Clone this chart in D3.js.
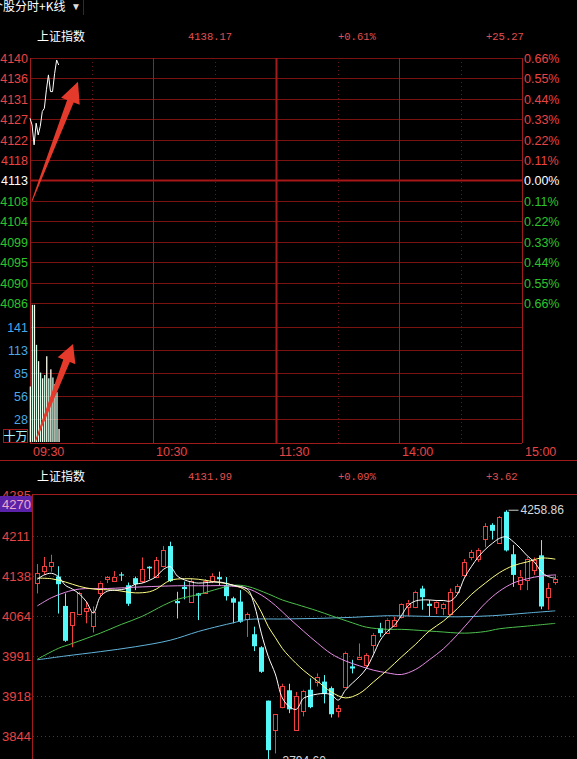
<!DOCTYPE html>
<html lang="zh">
<head>
<meta charset="utf-8">
<title>上证指数 分时+K线</title>
<script src="https://cdn.jsdelivr.net/npm/d3@7"></script>
<style>
  html, body { margin: 0; padding: 0; background: #000; }
  svg { display: block; }
</style>
</head>
<body>
<script>
// ---------- 分时 (intraday) ----------
const prevClose = 4112.9
const pctSteps = [0.66, 0.55, 0.44, 0.33, 0.22, 0.11, 0, -0.11, -0.22, -0.33, -0.44, -0.55, -0.66]
const priceTicks = [4140, 4136, 4131, 4127, 4122, 4118, 4113, 4108, 4104, 4099, 4095, 4090, 4086]
const pctTicks = ["0.66%", "0.55%", "0.44%", "0.33%", "0.22%", "0.11%", "0.00%",
                  "0.11%", "0.22%", "0.33%", "0.44%", "0.55%", "0.66%"]
const volTicks = [141, 113, 85, 56, 28]
const timeLabels = ["09:30", "10:30", "11:30", "14:00", "15:00"]
const timeMinutes = [0, 60, 120, 180, 240]
const minutePrice = [4126.7, 4125.2, 4120.8, 4125.6, 4123.0, 4124.9, 4128.2, 4128.9,
                     4133.0, 4136.3, 4132.6, 4132.6, 4136.6, 4139.6, 4138.5]
const minuteVol = [68, 168, 168, 119, 99, 85, 78, 82, 105, 78, 89, 79, 71, 61, 16]
const topHeader = ["上证指数", "4138.17", "+0.61%", "+25.27"]

// ---------- 日K ----------
const kOpen  = [4125,4146,4156,4137,4083,4048,4068,4075,4046,4107,4132,4129,4141,4121,4134,4128,4155,4136,4156,4193,
                4092,4118,4091,4106,4106,4129,4136,4121,4097,4091,4058,4031,4007,3909,3854,3897,3928,3856,3891,3929,
                3944,3944,3932,3889,3935,3972,3987,3974,4011,4042,4034,4046,4063,4082,4082,4115,4087,4082,4080,4068,
                4109,4140,4172,4169,4207,4232,4199,4256,4178,4125,4131,4149,4176,4100,4127]
const kClose = [4143,4156,4164,4123,4019,4072,4106,4080,4071,4126,4136,4137,4139,4087,4123,4150,4152,4167,4186,4129,
                4088,4114,4129,4102,4128,4138,4132,4101,4089,4054,4068,4009,3962,3818,3884,3936,3893,3918,3927,3897,
                3953,3922,3884,3895,3997,3968,3990,3993,4030,4033,4058,4057,4087,4089,4109,4099,4083,4091,4087,4109,
                4120,4164,4182,4186,4230,4221,4246,4185,4140,4137,4170,4168,4082,4116,4132]
const kHigh  = [4160,4173,4177,4156,4106,4072,4109,4091,4082,4128,4138,4147,4145,4126,4137,4172,4156,4173,4193,4201,
                4109,4128,4134,4107,4132,4143,4146,4136,4100,4112,4071,4045,4009,3909,3884,3940,3940,3925,3929,3950,
                3959,3956,3935,3901,3999,3984,4014,3996,4033,4052,4060,4063,4088,4094,4111,4120,4094,4094,4089,4115,
                4123,4169,4186,4189,4235,4235,4248,4258.86,4195,4149,4173,4172,4204,4125,4141]
const kLow   = [4106,4140,4146,4069,4017,4007,4066,4051,4034,4099,4125,4127,4129,4083,4112,4125,4132,4134,4154,4127,
                4060,4095,4089,4057,4105,4125,4121,4093,4051,4052,4026,4000,3960,3794.6,3812,3895,3886,3855,3880,3895,
                3935,3904,3878,3878,3932,3959,3985,3971,3996,4026,4033,4044,4060,4064,4079,4076,4064,4068,4066,4066,
                4105,4137,4167,4164,4191,4205,4198,4183,4118,4112,4112,4140,4077,4076,4122]
const kTicks = [4211, 4138, 4064, 3991, 3918, 3844]
const bottomHeader = ["上证指数", "4131.99", "+0.09%", "+3.62"]

// moving averages: [candle index, value]
const ma5 = [[0,4132],[1,4140],[2,4143],[3,4137],[4,4121],[5,4114],[6,4105],[7,4091],[8,4070],[9,4100],[10,4110],
  [11,4112],[12,4113],[13,4116],[14,4123],[15,4125],[16,4130],[17,4137],[18,4150],[19,4155],[20,4138],[21,4131],
  [22,4127],[23,4125],[26,4127],[28,4121],[30,4114],[31,4085],[32,4033],[33,3990],[34,3958],[35,3914],[36,3898],
  [37,3893],[38,3913],[39,3918],[40,3921],[41,3922],[42,3920],[43,3910],[44,3928],[45,3941],[46,3953],[47,3968],
  [48,3993],[49,4020],[50,4036],[51,4047],[52,4065],[53,4084],[54,4092],[55,4094],[56,4094],[57,4093],[58,4093],
  [59,4092],[60,4104],[61,4134],[62,4155],[63,4173],[64,4187],[65,4198],[66,4207],[67,4210],[68,4201],[69,4189],
  [70,4175],[71,4164],[72,4146],[73,4137],[74,4134]]
const ma10 = [[0,4134],[2,4133],[4,4127],[6,4119],[8,4114],[11,4112],[14,4107],[16,4109],[17,4114],[19,4130],
  [21,4133],[23,4132],[25,4128],[27,4124],[29,4117],[30,4109],[31,4094],[32,4072],[33,4045],[34,4025],[35,4005],
  [36,3990],[38,3965],[40,3945],[42,3925],[44,3914],[46,3922],[48,3943],[50,3965],[52,3989],[54,4012],[56,4037],
  [58,4055],[60,4078],[62,4104],[64,4125],[66,4144],[68,4157],[70,4164],[72,4171],[74,4169]]
const ma20 = [[0,4083],[2,4098],[4,4108],[6,4114],[10,4115],[15,4118],[20,4120],[24,4120],[27,4120],[30,4115],
  [32,4103],[34,4084],[36,4060],[38,4037],[40,4015],[42,3995],[44,3982],[46,3973],[48,3965],[50,3960],[52,3957],
  [54,3966],[56,3984],[58,4004],[60,4030],[62,4059],[64,4088],[66,4110],[68,4125],[70,4133],[72,4138],[74,4140]]
const ma60 = [[0,3985],[3,4005],[5,4014],[9,4033],[12,4049],[15,4064],[18,4084],[20,4095],[23,4104],[26,4115],
  [28,4121],[30,4119],[33,4105],[35,4094],[37,4086],[40,4074],[42,4065],[45,4052],[47,4044],[50,4040],[52,4040],
  [57,4036],[61,4033],[64,4036],[66,4041],[70,4046],[74,4051]]
const ma120 = [[0,3984],[4,3991],[9,3999],[14,4008],[19,4020],[23,4036],[26,4046],[28,4052],[30,4058],[35,4059],
  [40,4060],[45,4062],[50,4065],[55,4064],[60,4063],[65,4065],[70,4070],[74,4074]]

const W = 577, H = 759
const RED = "#e84444", GREEN = "#2cc42c", GRID = "#7a1212", BORDER = "#a01c1c"
const CJK = "'Noto Sans CJK SC', sans-serif"

const svg = d3.select("body").append("svg")
    .attr("width", W).attr("height", H)
    .style("background", "#000")
    .attr("font-family", "'Liberation Sans', Arial, sans-serif")

// tab strip
svg.append("text").attr("x", -9).attr("y", 11).attr("fill", "#fff")
    .attr("font-family", CJK).attr("font-size", 12).text("个股分时+K线")
svg.append("text").attr("x", 71).attr("y", 10).attr("fill", "#ddd")
    .attr("font-size", 10).text("▼")
svg.append("line").attr("x1", 83.5).attr("x2", 83.5).attr("y1", 0).attr("y2", 15)
    .attr("stroke", "#5a1a1a")

function header(g, vals, y) {
  g.append("text").attr("x", 37).attr("y", y).attr("fill", "#fff")
      .attr("font-family", CJK).attr("font-size", 12).text(vals[0])
  const xs = [188, 338, 486]
  vals.slice(1).forEach((v, i) => {
    g.append("text").attr("x", xs[i]).attr("y", y - 1).attr("fill", "#e05050")
        .attr("font-family", "'Liberation Mono', monospace").attr("font-size", 10.5).text(v)
  })
}
header(svg, topHeader, 41)

// ---------- intraday panel ----------
const tX = d3.scaleLinear([0, 240], [30, 522])
const tY = d3.scaleLinear([prevClose * (1 - 0.0066), prevClose * (1 + 0.0066)], [303, 58])
const vY = d3.scaleLinear([0, 169], [442, 304])

const topG = svg.append("g")

// horizontal price grid
pctSteps.forEach((p, i) => {
  const y = Math.round(tY(prevClose * (1 + p / 100))) + 0.5
  topG.append("line").attr("x1", 30).attr("x2", 522).attr("y1", y).attr("y2", y)
      .attr("stroke", p === 0 ? "#a81616" : GRID).attr("stroke-width", p === 0 ? 2 : 1)
  const col = p > 0 ? RED : p < 0 ? GREEN : "#fff"
  topG.append("text").attr("x", 28).attr("y", y + 4.5).attr("text-anchor", "end")
      .attr("fill", col).attr("font-size", 12.5).text(priceTicks[i])
  topG.append("text").attr("x", 524).attr("y", y + 4.5)
      .attr("fill", col).attr("font-size", 12.5).text(pctTicks[i])
})
// volume grid
volTicks.forEach(v => {
  const y = Math.round(vY(v)) + 0.5
  topG.append("line").attr("x1", 30).attr("x2", 522).attr("y1", y).attr("y2", y).attr("stroke", GRID)
  topG.append("text").attr("x", 28).attr("y", y + 4.5).attr("text-anchor", "end")
      .attr("fill", "#4aa8e6").attr("font-size", 12.5).text(v)
})
topG.append("rect").attr("x", 3.5).attr("y", 429.5).attr("width", 24).attr("height", 13)
    .attr("fill", "none").attr("stroke", BORDER)
topG.append("text").attr("x", 15.5).attr("y", 440.5).attr("text-anchor", "middle")
    .attr("fill", "#a8f4ff").attr("font-family", CJK).attr("font-size", 12).text("十万")

// vertical grid (solid on the hour marks, dotted on half hours)
d3.range(0, 241, 30).forEach(m => {
  const x = Math.round(tX(m)) + 0.5
  const solid = m % 60 === 0
  topG.append("line").attr("x1", x).attr("x2", x).attr("y1", 58).attr("y2", 443)
      .attr("stroke", solid ? BORDER : "#6a1414")
      .attr("stroke-width", m === 120 ? 2 : 1)
      .attr("stroke-dasharray", solid ? null : "1,3")
})
topG.append("line").attr("x1", 30).attr("x2", 522).attr("y1", 443.5).attr("y2", 443.5).attr("stroke", BORDER)
timeMinutes.forEach((m, i) => {
  topG.append("text").attr("x", tX(m) + 3).attr("y", 456).attr("fill", RED)
      .attr("font-size", 12.5).text(timeLabels[i])
})

// volume bars
topG.append("g").selectAll("rect").data(minuteVol).join("rect")
    .attr("x", (d, i) => tX(i) - 0.3).attr("width", 1.3)
    .attr("y", d => vY(d)).attr("height", d => vY(0) - vY(d))
    .attr("fill", (d, i) => i % 2 ? "#c8ffe8" : "#fffff0")

// price line
topG.append("path").datum(minutePrice)
    .attr("d", d3.line().x((d, i) => tX(i)).y(d => tY(d)))
    .attr("fill", "none").attr("stroke", "#fff").attr("stroke-width", 1)

// red annotation arrows
function arrowPath(x0, y0, x1, y1, tailW, shaftW, headLen, headHalf) {
  const L = Math.hypot(x1 - x0, y1 - y0), ux = (x1 - x0) / L, uy = (y1 - y0) / L
  const nx = -uy, ny = ux
  const bx = x1 - ux * headLen, by = y1 - uy * headLen
  const p = [
    [x0 + nx * tailW / 2, y0 + ny * tailW / 2],
    [bx + nx * shaftW / 2, by + ny * shaftW / 2],
    [bx + nx * headHalf, by + ny * headHalf],
    [x1, y1],
    [bx - nx * headHalf, by - ny * headHalf],
    [bx - nx * shaftW / 2, by - ny * shaftW / 2],
    [x0 - nx * tailW / 2, y0 - ny * tailW / 2]
  ]
  return "M" + p.map(d => d.join(",")).join("L") + "Z"
}
topG.append("path")
    .attr("d", arrowPath(tX(1), tY(4108.4), tX(23.4), tY(4134.8), 1, 7, 21, 10))
    .attr("fill", "#e43a2c")
topG.append("path")
    .attr("d", arrowPath(tX(2.5), vY(0), tX(21), vY(120), 1, 7, 18, 9.5))
    .attr("fill", "#e43a2c")

// separator between panels
svg.append("line").attr("x1", 0).attr("x2", W).attr("y1", 460.5).attr("y2", 460.5).attr("stroke", BORDER)

// ---------- K-line panel ----------
header(svg, bottomHeader, 481)
const kX = d3.scaleLinear([0, 74], [37.3, 555.3])
const kY = d3.scaleLinear([3844, 4138], [736, 576])
const bot = svg.append("g")

// top edge label, half hidden behind the highlighted cursor price
bot.append("text").attr("x", 2).attr("y", kY(4285) + 4).attr("fill", RED)
    .attr("font-size", 13).text("4285")
bot.append("rect").attr("x", 0).attr("y", 496).attr("width", 32).attr("height", 16).attr("fill", "#5a22a8")
bot.append("text").attr("x", 2).attr("y", kY(4270) + 4.5).attr("fill", "#f0a8c8")
    .attr("font-size", 13).text("4270")
bot.append("line").attr("x1", 32).attr("x2", W).attr("y1", 494.5).attr("y2", 494.5).attr("stroke", BORDER)
bot.append("line").attr("x1", 32.5).attr("x2", 32.5).attr("y1", 494).attr("y2", H).attr("stroke", BORDER)

kTicks.forEach(v => {
  const y = Math.round(kY(v)) + 0.5
  bot.append("line").attr("x1", 33).attr("x2", W).attr("y1", y).attr("y2", y)
      .attr("stroke", "#8a1c1c").attr("stroke-dasharray", "1,3")
  bot.append("text").attr("x", 2).attr("y", y + 4.5).attr("fill", RED)
      .attr("font-size", 13).text(v)
})

const CY = "#54f8f8", CR = "#f04040"
const candles = bot.append("g")
kOpen.forEach((o, i) => {
  const c = kClose[i], up = c >= o
  const cx = Math.round(kX(i)) + 0.5
  const yT = kY(Math.max(o, c)), yB = kY(Math.min(o, c))
  const col = up ? CR : CY
  candles.append("line").attr("x1", cx).attr("x2", cx)
      .attr("y1", kY(kHigh[i])).attr("y2", up ? yT : kY(kLow[i])).attr("stroke", col)
  if (up) {
    candles.append("line").attr("x1", cx).attr("x2", cx)
        .attr("y1", yB).attr("y2", kY(kLow[i])).attr("stroke", col)
    candles.append("rect").attr("x", cx - 2).attr("width", 4)
        .attr("y", Math.round(yT) + 0.5).attr("height", Math.max(1, Math.round(yB - yT)))
        .attr("fill", "#000").attr("stroke", col)
  } else {
    candles.append("rect").attr("x", cx - 2.5).attr("width", 5)
        .attr("y", yT).attr("height", Math.max(1.2, yB - yT)).attr("fill", col)
  }
})

const maLine = d3.line().x(d => kX(d[0])).y(d => kY(d[1])).curve(d3.curveCatmullRom)
const maSeries = [[ma120, "#62b4dc"], [ma60, "#4cc04c"], [ma20, "#e68ce6"], [ma10, "#ffff80"], [ma5, "#ffffff"]]
maSeries.forEach(([d, col]) => {
  bot.append("path").datum(d).attr("d", maLine)
      .attr("fill", "none").attr("stroke", col).attr("stroke-width", 1)
})

// high / low markers
function marker(i, v, dy) {
  const cx = Math.round(kX(i)) + 0.5, y = kY(v)
  bot.append("line").attr("x1", cx + 2).attr("x2", cx + 12).attr("y1", y).attr("y2", y).attr("stroke", "#ccc")
  bot.append("text").attr("x", cx + 14).attr("y", y + dy).attr("fill", "#d8d8d8")
      .attr("font-size", 12).text(v.toFixed(2))
}
const hiIdx = d3.maxIndex(kHigh), loIdx = d3.minIndex(kLow)
marker(hiIdx, kHigh[hiIdx], 4)
marker(loIdx, kLow[loIdx], 2)
</script>
</body>
</html>
